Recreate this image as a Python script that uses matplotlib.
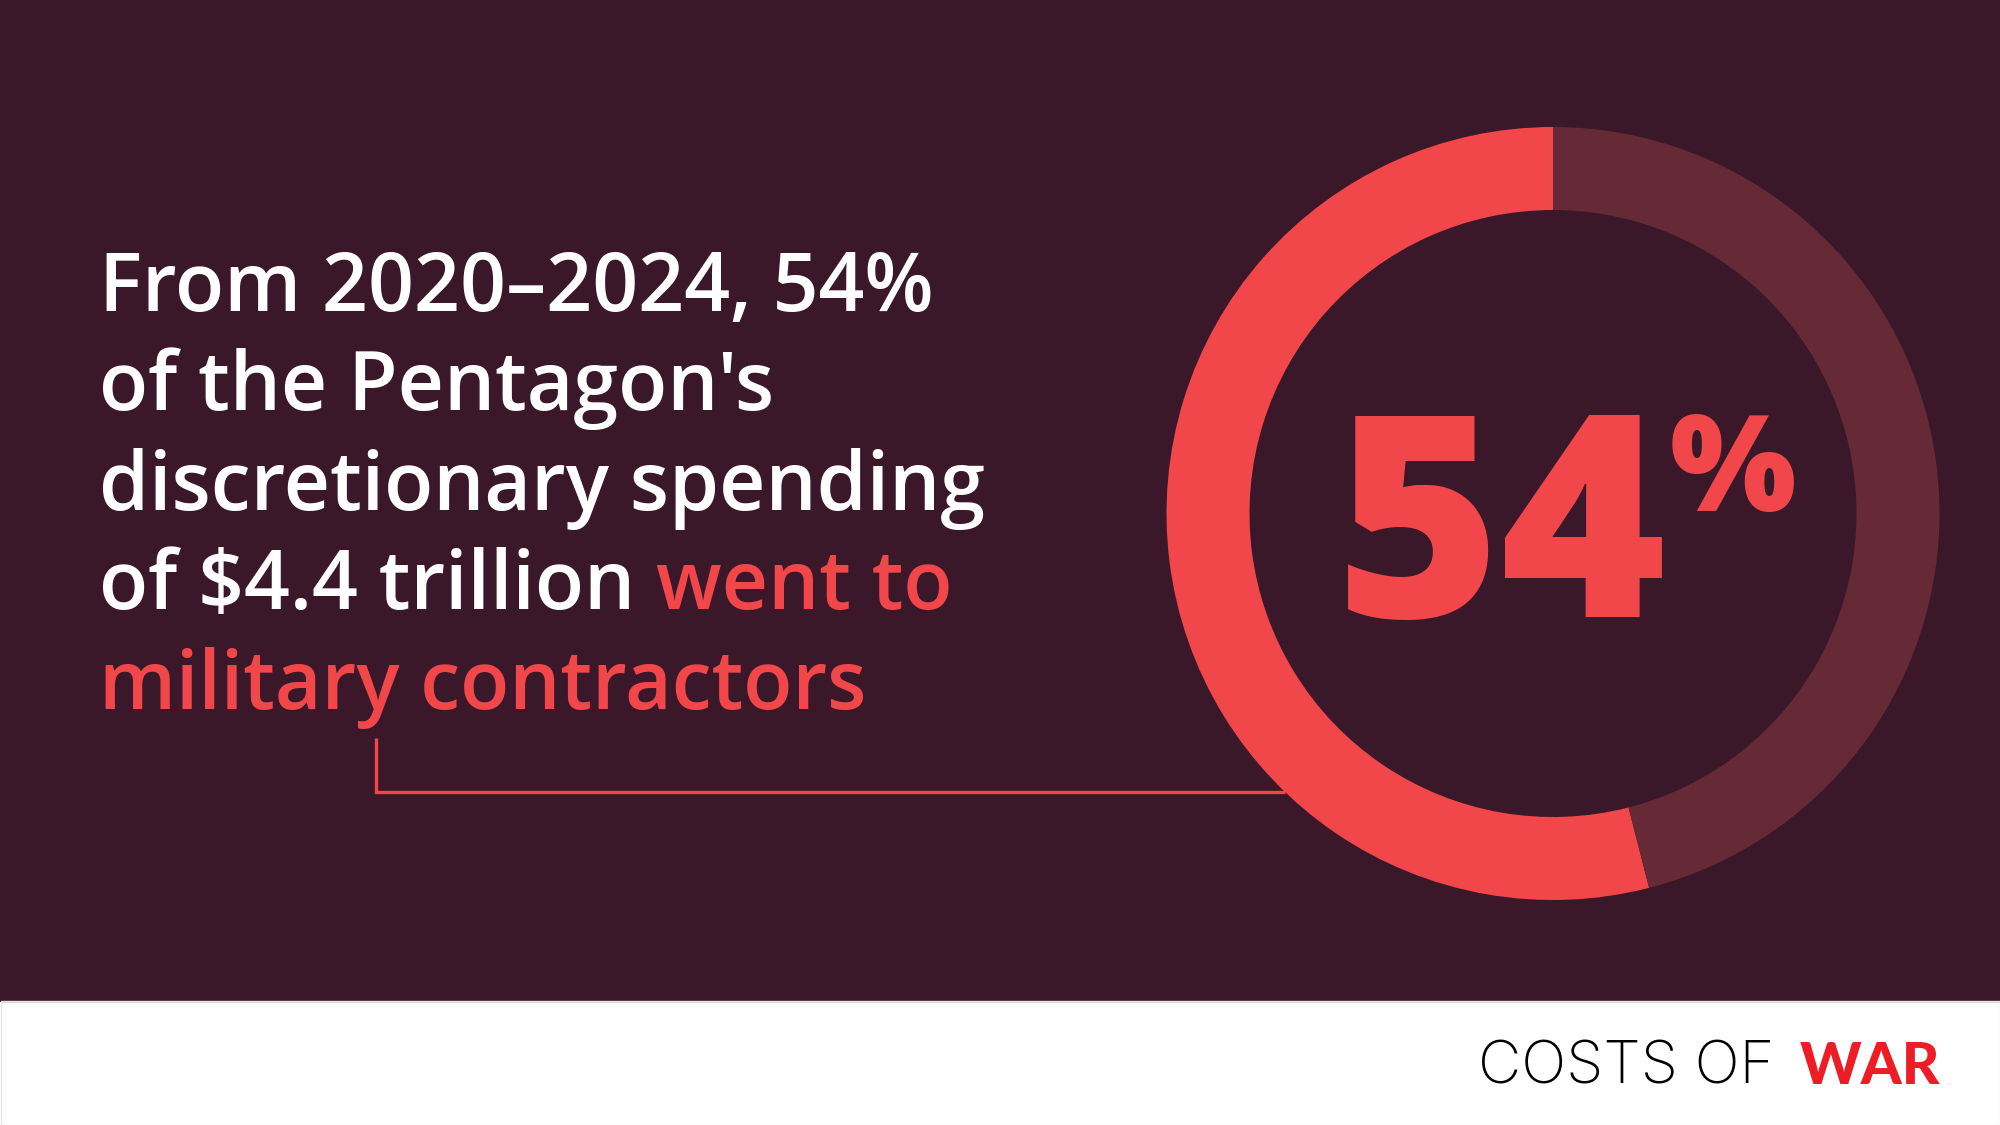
import numpy as np
import matplotlib.pyplot as plt

# data
shares = [54, 46]
share_label = "54"
lines_white = ["From 2020\u20132024, 54%", "of the Pentagon's", "discretionary spending", "of $4.4 trillion "]
red_tail = "went to"
red_line = "military contractors"

bg = '#3a1829'
red = '#f2474a'
dark = '#652a35'

W, H = 2000, 1125
fig = plt.figure(figsize=(20, 11.25), dpi=100)
fig.patch.set_facecolor('white')
ax = fig.add_axes([0, 0, 1, 1])

cx, cy = 1553, H - 513.5
r_out, r_in = 386.5, 303.5

ax.pie(shares, colors=[red, dark], startangle=90, counterclock=True,
       center=(cx, cy), radius=r_out,
       wedgeprops=dict(width=r_out - r_in, linewidth=0))
ax.set_xlim(0, W)
ax.set_ylim(0, H)
ax.set_aspect('auto')
ax.axis('off')

# backgrounds
ax.add_patch(plt.Rectangle((0, H - 1001), W, 1001, color=bg, zorder=-5))
ax.add_patch(plt.Rectangle((0.5, 0.5), W - 1, H - 1001, fill=False, ec='#e6e6e6', lw=1, zorder=-4))

fam = ['Open Sans', 'DejaVu Sans']
fs = 58
x0 = 99
base0 = 311
step = 99.5
for i, s in enumerate(lines_white):
    ax.text(x0, H - (base0 + step * i), s, color='white', fontsize=fs, family=fam,
            fontweight='semibold', ha='left', va='baseline')

fig.canvas.draw()
rend = fig.canvas.get_renderer()
t = ax.text(x0, H - (base0 + step * 3), lines_white[3], fontsize=fs, family=fam,
            fontweight='semibold', ha='left', va='baseline', alpha=0)
bb = t.get_window_extent(rend)
ax.text(bb.x1, H - (base0 + step * 3), red_tail, color=red, fontsize=fs, family=fam,
        fontweight='semibold', ha='left', va='baseline')
ax.text(x0, H - (base0 + step * 4), red_line, color=red, fontsize=fs, family=fam,
        fontweight='semibold', ha='left', va='baseline')

# connector
ly = 792
lx_end = cx - np.sqrt(r_out ** 2 - (H - ly - cy) ** 2)
ax.plot([376, 376, lx_end], [H - 738, H - ly, H - ly], color=red, lw=2.4,
        solid_capstyle='butt', solid_joinstyle='miter')

# big number
ax.text(1335, H - 617, share_label, color=red, fontsize=204, family=fam,
        fontweight='extra bold', ha='left', va='baseline')
ax.text(1670, H - 511, "%", color=red, fontsize=96, family=fam,
        fontweight='extra bold', ha='left', va='baseline')

# footer
ax.text(1478, H - 1084, "COSTS OF", color='black', fontsize=43, family=['Inter', 'DejaVu Sans'],
        fontweight='light', ha='left', va='baseline')
ax.text(1940, H - 1084, "WAR", color='#ee1c25', fontsize=42, family=['Lato', 'DejaVu Sans'],
        fontweight='black', ha='right', va='baseline')

fig.savefig('out.png', dpi=100, facecolor='white')
